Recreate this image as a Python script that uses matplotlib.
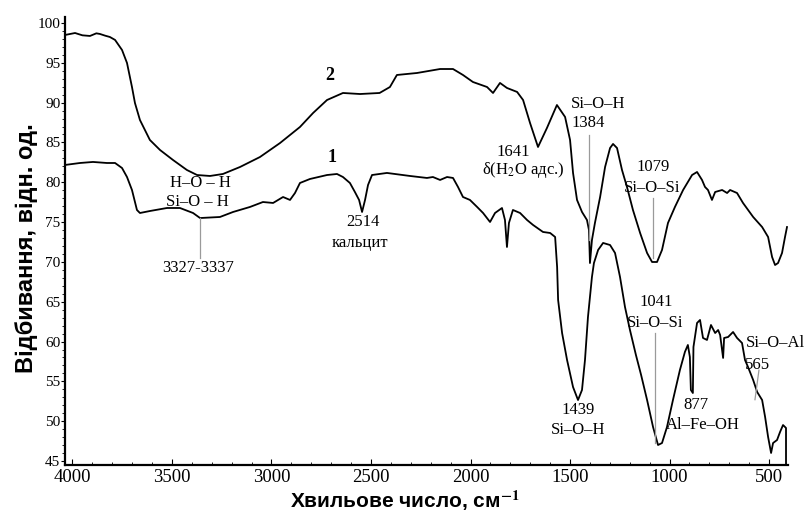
import matplotlib
matplotlib.use("Agg")
import matplotlib.pyplot as plt
from matplotlib.ticker import MultipleLocator

plt.rcParams['mathtext.fontset'] = 'stix'

# Curve 2 (upper spectrum)
wn2 = [4038, 3987, 3950, 3912, 3880, 3862, 3835, 3812, 3786, 3751, 3726, 3701, 3686, 3661,
       3611, 3560, 3495, 3425, 3374, 3309, 3244, 3158, 3058, 2957, 2857, 2791, 2721,
       2641, 2555, 2457, 2405, 2370, 2269, 2153, 2088, 2038, 1988, 1917, 1887, 1852,
       1817, 1766, 1736, 1701, 1661, 1616, 1566, 1525, 1500, 1485, 1465, 1440, 1415,
       1405, 1400, 1390, 1375, 1349, 1324, 1299, 1284, 1264, 1239, 1214, 1184, 1148,
       1113, 1088, 1063, 1038, 1008, 973, 932, 887, 862, 837, 822, 807, 787, 771, 736,
       711, 696, 661, 631, 580, 535, 505, 485, 470, 455, 435, 420, 410]
t2 = [98.49, 98.74, 98.45, 98.37, 98.70, 98.62, 98.40, 98.24, 97.87, 96.61, 94.98, 91.96, 89.95, 87.82,
      85.31, 84.05, 82.80, 81.54, 80.91, 80.79, 81.04, 81.92, 83.17, 84.93, 86.94, 88.70, 90.33,
      91.21, 91.08, 91.21, 91.96, 93.47, 93.72, 94.22, 94.22, 93.47, 92.59, 91.96, 91.21, 92.47,
      91.84, 91.34, 90.33, 87.44, 84.43, 86.82, 89.70, 88.20, 85.31, 81.17, 77.78, 76.27, 75.26,
      74.01, 69.86, 72.75, 74.89, 78.15, 81.92, 84.30, 84.81, 84.30, 81.54, 79.41, 76.52, 73.63,
      71.12, 69.99, 69.99, 71.50, 74.89, 76.90, 79.03, 80.91, 81.29, 80.29, 79.41, 79.03, 77.78, 78.78, 79.03,
      78.65, 79.03, 78.65, 77.40, 75.64, 74.38, 73.13, 70.62, 69.61, 69.86, 71.12, 73.13, 74.38]

# Curve 1 (lower spectrum)
wn1 = [4038, 3962, 3897, 3827, 3786, 3751, 3726, 3701, 3676, 3661, 3611, 3525, 3460, 3394,
       3359, 3259, 3193, 3108, 3043, 2992, 2942, 2907, 2882, 2857, 2807, 2721, 2671, 2641,
       2606, 2581, 2560, 2545, 2530, 2515, 2495, 2420, 2304, 2219, 2189, 2153, 2118, 2088,
       2063, 2038, 2003, 1967, 1937, 1902, 1877, 1842, 1827, 1817, 1807, 1787, 1751, 1716,
       1686, 1636, 1600, 1575, 1565, 1560, 1540, 1515, 1485, 1460, 1440, 1425, 1410, 1390,
       1380, 1359, 1334, 1299, 1274, 1249, 1224, 1199, 1169, 1143, 1113, 1083, 1058, 1038,
       1013, 983, 948, 923, 908, 898, 893, 883, 880, 862, 847, 832, 812, 792, 771, 756,
       746, 731, 726, 706, 681, 661, 636, 621, 606, 580, 560, 535, 520, 505, 490, 480,
       460, 445, 430, 415, 415]
t1 = [82.17, 82.42, 82.55, 82.42, 82.42, 81.79, 80.66, 79.03, 76.52, 76.14, 76.39, 76.77, 76.77, 76.14,
      75.51, 75.64, 76.27, 76.90, 77.52, 77.40, 78.15, 77.78, 78.65, 79.91, 80.41, 80.91, 81.04, 80.66,
      79.91, 78.78, 77.78, 76.27, 77.78, 79.66, 80.91, 81.17, 80.79, 80.54, 80.66, 80.29, 80.66, 80.54,
      79.41, 78.15, 77.78, 76.90, 76.14, 75.01, 76.14, 76.77, 75.26, 71.87, 74.89, 76.52, 76.14, 75.26,
      74.64, 73.76, 73.63, 73.13, 69.36, 65.22, 61.07, 57.68, 54.29, 52.66, 53.92, 57.68, 63.08, 68.11,
      69.86, 71.50, 72.38, 72.12, 71.12, 68.11, 64.34, 61.45, 58.31, 55.80, 52.66, 49.27, 47.01, 47.26,
      49.27, 52.66, 56.43, 58.69, 59.57, 58.06, 53.92, 53.54, 59.32, 62.33, 62.71, 60.45, 60.20, 62.08, 61.07, 61.45,
      60.82, 57.94, 60.45, 60.57, 61.20, 60.45, 59.82, 57.68, 56.81, 55.17, 53.67, 52.66, 50.53, 48.02, 46.01, 47.26,
      47.64, 48.64, 49.52, 49.15, 44.6]

xticks = [4000, 3500, 3000, 2500, 2000, 1500, 1000, 500]
yticks = [45, 50, 55, 60, 65, 70, 75, 80, 85, 90, 95, 100]

fig = plt.figure(figsize=(8.05, 5.13), dpi=100)
ax = fig.add_axes([64.5/805, (513-465)/513, (788-64.5)/805, (465-17)/513])

ax.plot(wn2, t2, color='black', lw=1.3)
ax.plot(wn1, t1, color='black', lw=1.3)

ax.set_xlim(4040, 405)
ax.set_ylim(44.5, 100.75)
ax.spines['top'].set_visible(False)
ax.spines['right'].set_visible(False)
ax.spines['left'].set_linewidth(1.6)
ax.spines['bottom'].set_linewidth(1.6)

ax.set_xticks(xticks)
ax.set_xticklabels([str(v) for v in xticks], family='Liberation Serif', fontsize=13.5)
ax.set_yticks(yticks)
ax.set_yticklabels([str(v) for v in yticks], family='Liberation Serif', fontsize=11)
ax.xaxis.set_minor_locator(MultipleLocator(100))
ax.yaxis.set_minor_locator(MultipleLocator(1))
ax.tick_params(axis='x', which='major', direction='in', length=4, pad=3)
ax.tick_params(axis='x', which='minor', direction='in', length=2)
ax.tick_params(axis='y', which='major', direction='out', length=3, pad=0)
ax.tick_params(axis='y', which='minor', direction='out', length=2)

fig.text(405/805, (513-501)/513, "Хвильове число, см$^{\\mathbf{-1}}$", ha='center', va='center',
         family='Liberation Sans', fontweight='bold', fontsize=15)
fig.text(27/805, (513-248)/513, "Відбивання, відн. од.", ha='center', va='center', rotation=90,
         family='Liberation Sans', fontweight='bold', fontsize=17)

tk = dict(family='Liberation Serif', fontsize=12, ha='center', va='center')
gl = dict(color='#9a9a9a', lw=0.9)

ax.text(2706, 93.35, "2", family='Liberation Serif', fontsize=13, fontweight='bold', ha='center', va='center')
ax.text(2696, 83.05, "1", family='Liberation Serif', fontsize=13, fontweight='bold', ha='center', va='center')

ax.text(3359, 79.9, "H–O – H", **tk)
ax.text(3374, 77.5, "Si–O – H", **tk)
ax.plot([3359, 3359], [75.5, 70.5], **gl)
ax.text(3369, 69.2, "3327-3337", **tk)

ax.text(2540, 75.0, "2514", **tk)
ax.text(2555, 72.4, "кальцит", **tk)

ax.text(1786, 83.8, "1641", **tk)
ax.text(1736, 81.5, "δ(H$_2$O адс.)", **tk)

ax.text(1359, 89.8, "Si–O–H", **tk)
ax.text(1410, 87.4, "1384", **tk)
ax.plot([1405, 1405], [85.9, 72.75], **gl)

ax.text(1083, 81.9, "1079", **tk)
ax.text(1088, 79.3, "Si–O–Si", **tk)
ax.plot([1083, 1083], [78.0, 70.5], **gl)

ax.text(1068, 65.0, "1041", **tk)
ax.text(1073, 62.3, "Si–O–Si", **tk)
ax.plot([1073, 1073], [61.1, 47.3], **gl)

ax.text(867, 52.0, "877", **tk)
ax.text(832, 49.5, "Al–Fe–OH", **tk)

ax.text(470, 59.8, "Si–O–Al", **tk)
ax.text(560, 57.1, "565", **tk)
ax.plot([551, 571], [56.4, 52.7], **gl)

ax.text(1460, 51.4, "1439", **tk)
ax.text(1460, 48.9, "Si–O–H", **tk)

fig.savefig("out.png", dpi=100)
